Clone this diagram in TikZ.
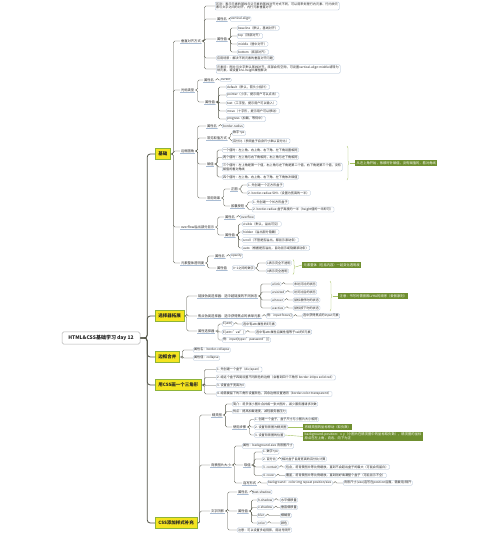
\documentclass[tikz,border=0pt]{standalone}
\usepackage{fontspec}
\setmainfont{Noto Sans CJK SC}
\XeTeXlinebreaklocale "zh"
\XeTeXlinebreakskip = 0pt plus 1pt
\usetikzlibrary{decorations.pathreplacing,calc}
\definecolor{lnc}{HTML}{55574A}
\definecolor{bxc}{HTML}{A9BCD3}
\definecolor{ylw}{HTML}{F4E41F}
\definecolor{grn}{HTML}{8DB33A}
\definecolor{gbx}{HTML}{6F8F2F}
\newcommand\mmlink[2]{\draw[cn] (#1.east) -- ++(2.5,0) |- (#2.west);}
\tikzset{
  lf/.style={draw=bxc, line width=0.25pt, rounded corners=1pt, inner xsep=1pt, inner ysep=0.7pt,
    anchor=west, font=\fontsize{3.1}{3.7}\selectfont, text=black!85},
  md/.style={inner xsep=0.8pt, inner ysep=0.7pt, anchor=west, font=\fontsize{3.3}{3.8}\selectfont, text=black!85,
    path picture={\draw[bxc,line width=0.6pt] (path picture bounding box.south west) -- (path picture bounding box.south east);}},
  br/.style={fill=ylw, draw=grn, line width=0.8pt, inner xsep=3pt, minimum height=11pt, anchor=west,
    font=\fontsize{4.5}{5}\selectfont\bfseries, text=black!85},
  rt/.style={draw=gray!60, fill=white, rounded corners=1.5pt, line width=0.5pt, minimum width=78pt, minimum height=12pt,
    font=\fontsize{5}{6}\selectfont\bfseries, text=black!85},
  gb/.style={fill=gbx, text=white, inner xsep=1.5pt, inner ysep=1pt, anchor=west, font=\fontsize{3.3}{3.9}\selectfont},
  cn/.style={draw=lnc, line width=0.35pt, rounded corners=1.5pt},
  trk/.style={draw=lnc, line width=0.8pt, rounded corners=3pt},
  brc/.style={decorate, decoration={brace, amplitude=2pt}, draw=grn!80, line width=0.4pt},
  gl/.style={draw=grn!80, line width=0.4pt}
}
\begin{document}
\begin{tikzpicture}[x=1pt,y=-1pt]
\useasboundingbox (0,0) rectangle (500,533);
\fill[white] (0,0) rectangle (500,533);

% root and branches
\node[rt] (root) at (101,338) {HTML\&CSS基础学习 day 12};
\node[br] (b1) at (155,154) {基础};
\node[br] (b2) at (155,316) {选择器拓展};
\node[br] (b3) at (155,357) {边框合并};
\node[br] (b4) at (155,385) {用CSS画一个三角形};
\node[br] (b5) at (155,523) {CSS添加样式补充};
\foreach \b in {b1,b2,b3,b4,b5} {\draw[trk] (root.east) -- ++(7,0) |- (\b.west);}

% ---------- 基础
\node[md] (t1) at (180,41) {垂直对齐方式};
\node[md] (t2) at (180,90) {光标类型};
\node[md] (t3) at (180,151) {边框圆角};
\node[md] (t4) at (180,227) {overflow溢出部分显示};
\node[md] (t5) at (180,263) {元素整体透明度};
\foreach \c in {t1,t2,t3,t4,t5} {\mmlink{b1}{\c}}

% 垂直对齐方式
\node[lf, text width=122pt, align=left] (a1) at (215,6) {区别：表示元素的基线与父元素的基线对齐方式不同，可以用来处理行内元素、行内块元素与文字之间的对齐，内行元素垂直对齐};
\node[md] (a2) at (216,19) {属性名};
\node[lf] (a2v) at (230,19) {vertical-align};
\node[md] (a3) at (216,39) {属性值};
\node[lf] (a31) at (237,28) {baseline（默认，基线对齐）};
\node[lf] (a32) at (237,36) {top（顶部对齐）};
\node[lf] (a33) at (237,44) {middle（居中对齐）};
\node[lf] (a34) at (237,52) {bottom（底部对齐）};
\node[lf] (a4) at (216,58) {应用场景：解决不同元素的垂直对齐问题};
\node[lf, text width=122pt, align=left] (a5) at (216,69) {元素间：图片与文字默认基线对齐，底部会有空隙，可设置vertical-align:middle或转为块元素，或设置line-height属性解决};
\foreach \c in {a1,a2,a3,a4,a5} {\mmlink{t1}{\c}}
\mmlink{a2}{a2v}
\foreach \c in {a31,a32,a33,a34} {\mmlink{a3}{\c}}

% 光标类型
\node[md] (c1) at (203,80) {属性名};
\node[lf] (c1v) at (220,80) {cursor};
\node[md] (c2) at (204,102) {属性值};
\node[lf] (c21) at (226,87) {default（默认，箭头小指针）};
\node[lf] (c22) at (226,95) {pointer（小手，提示用户可以点击）};
\node[lf] (c23) at (226,103) {text（工字型，提示用户可以输入）};
\node[lf] (c24) at (226,111) {move（十字形，提示用户可以移动）};
\node[lf] (c25) at (226,119) {progress（加载，等待中）};
\foreach \c in {c1,c2} {\mmlink{t2}{\c}}
\mmlink{c1}{c1v}
\foreach \c in {c21,c22,c23,c24,c25} {\mmlink{c2}{\c}}

% 边框圆角
\node[md] (r1) at (206,126) {属性名};
\node[lf] (r1v) at (222,126) {border-radius};
\node[md] (r2) at (206,138) {常见取值方式};
\node[lf] (r21) at (232,133) {数字+px};
\node[lf] (r22) at (232,141) {百分比（参照盒子自身尺寸乘以百分比）};
\node[md] (r3) at (206,164) {赋值};
\node[lf] (r31) at (222,150) {一个值时：左上角、右上角、右下角、左下角设置相同};
\node[lf] (r32) at (222,157.5) {两个值时：左上角与右下角相同，右上角与左下角相同};
\node[lf, text width=118pt, align=left] (r33) at (222,167) {三个值时：左上角是第一个值，右上角与左下角是第二个值，右下角是第三个值，没有赋值的看对角线};
\node[lf] (r34) at (222,177) {四个值时：左上角、右上角、右下角、左下角依次赋值};
\node[md] (r4) at (206,198) {常用效果};
\node[md] (r41) at (230,189) {正圆};
\node[lf] (r411) at (247,185) {1. 先创建一个正方形盒子};
\node[lf] (r412) at (247,193) {2. border-radius:50\%（设置为宽高的一半）};
\node[md] (r42) at (230,206) {胶囊按钮};
\node[lf] (r421) at (252,202) {1. 先创建一个长方形盒子};
\node[lf] (r422) at (252,209.5) {2. border-radius:盒子高度的一半（height值的一半即可）};
\foreach \c in {r1,r2,r3,r4} {\mmlink{t3}{\c}}
\mmlink{r1}{r1v}
\foreach \c in {r21,r22} {\mmlink{r2}{\c}}
\foreach \c in {r31,r32,r33,r34} {\mmlink{r3}{\c}}
\foreach \c in {r41,r42} {\mmlink{r4}{\c}}
\foreach \c in {r411,r412} {\mmlink{r41}{\c}}
\foreach \c in {r421,r422} {\mmlink{r42}{\c}}
\draw[brc] (347,146) -- (347,180);
\coordinate (bm1) at (349.5,163);
\node[gb] (g1) at (355,163) {从左上角开始，依顺时针赋值，没有赋值的，看对角线};
\draw[gl] (bm1) -- (g1.west);

% overflow
\node[md] (o1) at (224,217) {属性名};
\node[lf] (o1v) at (240,217) {overflow};
\node[md] (o2) at (224,235) {属性值};
\node[lf] (o21) at (242,224) {visible（默认，溢出可见）};
\node[lf] (o22) at (242,232) {hidden（溢出部分隐藏）};
\node[lf] (o23) at (242,240) {scroll（不管是否溢出，都显示滚动条）};
\node[lf] (o24) at (242,248) {auto（根据是否溢出，自动显示或隐藏滚动条）};
\foreach \c in {o1,o2} {\mmlink{t4}{\c}}
\mmlink{o1}{o1v}
\foreach \c in {o21,o22,o23,o24} {\mmlink{o2}{\c}}

% 透明度
\node[md] (p1) at (214,256) {属性名};
\node[lf] (p1v) at (230,256) {opacity};
\node[md] (p2) at (216,268) {属性值};
\node[lf] (p2v) at (232,268) {0\textasciitilde 1之间的数字};
\node[lf] (p21) at (266,263) {1表示完全不透明};
\node[lf] (p22) at (266,271) {0表示完全透明};
\foreach \c in {p1,p2} {\mmlink{t5}{\c}}
\mmlink{p1}{p1v}
\foreach \c in {p21,p22} {\mmlink{p2v}{\c}}
\draw[brc] (293,259.5) -- (293,274.5);
\coordinate (bm2) at (295.5,267);
\node[gb] (g2) at (302,265) {元素整体（包括内容）一起变化透明度};
\draw[gl] (bm2) -- (g2.west);

% ---------- 选择器拓展
\node[md] (s1) at (197,296) {链接伪类选择器：选中超链接的不同状态};
\node[lf] (s11) at (271,284) {a:link};
\node[lf] (s12) at (271,292) {a:visited};
\node[lf] (s13) at (271,300) {a:hover};
\node[lf] (s14) at (271,308) {a:active};
\node[lf] (s11v) at (293,284) {未访问过的状态};
\node[lf] (s12v) at (293,292) {访问过后的状态};
\node[lf] (s13v) at (293,300) {鼠标悬停时的状态};
\node[lf] (s14v) at (293,308) {鼠标按下时的状态};
\node[md] (s2) at (197,316) {焦点伪类选择器：选中获得焦点的表单元素};
\node[lf] (s2a) at (266,316) {例：input:focus\{\}};
\node[lf] (s2b) at (302,316) {选中获得焦点的input元素};
\node[md] (s3) at (197,331) {属性选择器};
\node[lf] (s31) at (222,324) {E[attr]};
\node[lf] (s31v) at (242,324) {选中有attr属性的E元素};
\node[lf] (s32) at (222,332) {E[attr="val"]};
\node[lf] (s32v) at (255,332) {选中有attr属性且属性值等于val的E元素};
\node[lf] (s33) at (222,340) {例：input[type="password"]\{\}};
\foreach \c in {s1,s2,s3} {\mmlink{b2}{\c}}
\foreach \c in {s11,s12,s13,s14} {\mmlink{s1}{\c}}
\mmlink{s11}{s11v} \mmlink{s12}{s12v} \mmlink{s13}{s13v} \mmlink{s14}{s14v}
\mmlink{s2}{s2a} \mmlink{s2a}{s2b}
\foreach \c in {s31,s32,s33} {\mmlink{s3}{\c}}
\mmlink{s31}{s31v} \mmlink{s32}{s32v}
\draw[brc] (330,281) -- (330,311);
\coordinate (bm3) at (332.5,296);
\node[gb] (g3) at (338,296) {注意：书写时需按照LVHA的顺序（爱恨原则）};
\draw[gl] (bm3) -- (g3.west);

% ---------- 边框合并
\node[lf] (k1) at (193,350) {属性名：border-collapse};
\node[lf] (k2) at (193,358) {属性值：collapse};
\foreach \c in {k1,k2} {\mmlink{b3}{\c}}

% ---------- 三角形
\node[lf] (q1) at (216,369.5) {1. 先创建一个盒子（div/span）};
\node[lf] (q2) at (216,377.5) {2. 给这个盒子四周设置不同颜色的边框（会看到四个三角形 border:100px solid red）};
\node[lf] (q3) at (216,385.5) {3. 设置盒子宽高为0};
\node[lf] (q4) at (216,394) {4. 给需要留下的三角形设置颜色，其余边框设置透明（border-color:transparent）};
\foreach \c in {q1,q2,q3,q4} {\mmlink{b4}{\c}}

% ---------- CSS添加样式补充
\node[md] (e1) at (211,415) {精灵图};
\node[lf] (e11) at (232,404) {简介：将多张小图片合并成一张大图片，减少服务器请求次数};
\node[lf] (e12) at (232,411.5) {优点：提高加载速度，减轻服务器压力};
\node[md] (e13) at (232,427) {使用步骤};
\node[lf] (e131) at (254,419.5) {1. 创建一个盒子，盒子尺寸与小图片大小相同};
\node[lf] (e132) at (254,427) {2. 设置背景图为精灵图};
\node[lf] (e133) at (254,435) {3. 设置背景图的位置};
\node[gb] (gA) at (303,427) {将精灵图的坐标移动（取负数）};
\node[gb, text width=117pt, align=left] (gB) at (303,436.5) {background-position：x y（小图片在精灵图中的坐标取负数），精灵图的坐标原点在左上角，向右、向下为正};
\foreach \c in {e11,e12,e13} {\mmlink{e1}{\c}}
\foreach \c in {e131,e132,e133} {\mmlink{e13}{\c}}
\draw[gl] (e132.east) -- (gA.west);
\draw[gl] (e133.east) -- (gB.west);

\node[md] (e2) at (210,465) {背景图片大小};
\node[lf] (e21) at (242,446) {属性：background-size 背景图尺寸};
\node[md] (e22) at (243,465) {取值};
\node[lf] (e221) at (262,452) {1. 数字+px};
\node[lf] (e222) at (262,459) {2. 百分比};
\node[lf] (e222v) at (281,459) {相对盒子自身宽高的百分比计算};
\node[lf] (e223) at (262,467) {3. contain};
\node[lf] (e223v) at (285,467) {包含，将背景图片等比例缩放，直到不会超出盒子的最大（可能会有留白）};
\node[lf] (e224) at (262,475.5) {4. cover};
\node[lf] (e224v) at (285,475.5) {覆盖，将背景图片等比例缩放，直到刚好填满整个盒子（可能显示不全）};
\node[md] (e23) at (242,483) {连写形式};
\node[lf] (e231) at (267,483) {background：color img repeat position/size};
\node[lf] (e232) at (343,483) {背景尺寸(size)连写在position后面，需要用/隔开};
\foreach \c in {e21,e22,e23} {\mmlink{e2}{\c}}
\foreach \c in {e221,e222,e223,e224} {\mmlink{e22}{\c}}
\mmlink{e222}{e222v} \mmlink{e223}{e223v} \mmlink{e224}{e224v}
\mmlink{e23}{e231} \mmlink{e231}{e232}

\node[md] (e3) at (210,511) {文字阴影};
\node[md] (e31) at (237,492) {属性名};
\node[lf] (e31v) at (252,492) {text-shadow};
\node[md] (e32) at (237,511) {属性值};
\node[lf] (e321) at (257,500) {h-shadow};
\node[lf] (e322) at (257,507.5) {v-shadow};
\node[lf] (e323) at (257,515.5) {blur};
\node[lf] (e324) at (257,523) {color};
\node[lf] (e321v) at (280,500) {水平偏移量};
\node[lf] (e322v) at (280,507.5) {垂直偏移量};
\node[lf] (e323v) at (280,515.5) {模糊度};
\node[lf] (e324v) at (280,523) {颜色};
\node[lf] (e33) at (237,530) {注意：可以设置多组阴影，用逗号隔开};
\foreach \c in {e31,e32,e33} {\mmlink{e3}{\c}}
\mmlink{e31}{e31v}
\foreach \c in {e321,e322,e323,e324} {\mmlink{e32}{\c}}
\mmlink{e321}{e321v} \mmlink{e322}{e322v} \mmlink{e323}{e323v} \mmlink{e324}{e324v}

\foreach \c in {e1,e2,e3} {\mmlink{b5}{\c}}
\end{tikzpicture}
\end{document}
